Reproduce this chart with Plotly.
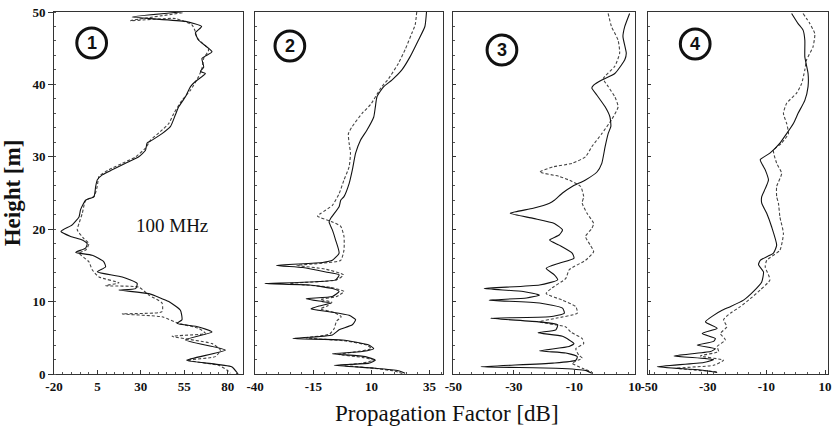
import plotly.graph_objects as go

# ---------------- data (height [m], propagation factor [dB]) ----------------
p1_solid_h = [50.0, 49.3, 48.7, 48.0, 47.1, 46.1, 44.5, 43.6, 42.4, 41.8, 41.5, 40.4, 39.7, 38.3, 36.9, 35.8, 34.2, 33.2, 32.3, 31.9,
              30.9, 30.0, 29.1, 28.2, 27.5, 26.8, 25.9, 24.5, 24.0, 22.7, 21.7, 20.6, 19.7, 19.0, 18.5, 18.0, 17.4, 16.8, 16.4, 15.5,
              14.8, 14.1, 13.4, 12.5, 11.8, 11.6, 11.1, 10.0, 8.8, 7.5, 7.0, 6.5, 5.8, 4.7, 3.3, 1.9, 1.0, 0.0]
p1_solid_v = [53, 25, 55.7, 65, 61.4, 63.3, 71.0, 65.2, 66.2, 64.3, 67.2, 61.4, 58.6, 55.7, 51.8, 49.9, 47.1, 42.2, 36.5, 33.6,
              32.7, 28.8, 21.2, 13.5, 7.8, 4.9, 4.0, 3.0, -1.8, -4.7, -5.6, -9.5, -16, -10.4, -3.7, -0.9, -1.8, -7.5, 2.0, 8.7,
              9.7, 4.9, 19.3, 27.9, 27.0, 17.4, 34.6, 46.1, 52.8, 53.7, 50.9, 63.3, 71.0, 55.7, 78.7, 56.4, 82.3, 86]
p1_dash_h = [49.9, 48.8, 49.1, 48.2, 47.3, 46.4, 44.8, 43.6, 42.2, 41.1, 39.2, 37.8, 36.0, 34.6, 33.5, 32.3, 31.2, 30.0, 29.1, 28.2,
             27.3, 25.9, 24.5, 24.0, 22.2, 20.8, 19.9, 18.7, 18.0, 17.1, 16.7, 15.5, 14.4, 13.4, 12.6, 12.2, 12.0, 10.9, 9.8, 8.6,
             8.3, 7.9, 7.0, 6.3, 5.6, 5.2, 4.2, 3.3, 2.4, 1.9, 1.2, 0.55, 0.1]
p1_dash_v = [54, 24, 50, 59.5, 61.4, 62.4, 69.1, 66.2, 65.2, 63.3, 58.6, 53.7, 49.0, 46.1, 41.3, 35.6, 32.7, 27.0, 19.3, 11.6,
             5.9, 4.9, 3.0, -1.8, -3.7, -5.6, -6.6, -2.8, 0.1, -1.8, -5.6, 0.1, 2.0, 5.9, 17.4, 9.7, 28.8, 34.6, 42.2, 42.2,
             19.3, 42.2, 51.8, 63.3, 67.2, 48.0, 71.0, 75.8, 72.9, 56.6, 74.8, 79.6, 81.5]

p2_solid_h = [50.0, 48.0, 46.1, 43.8, 42.0, 40.6, 39.7, 38.3, 36.9, 35.5, 33.7, 32.3, 30.5, 28.2, 26.3, 24.5, 24.0, 23.1, 21.5, 21.0,
              19.9, 18.5, 16.7, 15.7, 15.4, 15.0, 14.7, 14.1, 13.7, 13.0, 12.5, 12.3, 11.8, 11.4, 10.7, 10.4, 10.0, 9.8, 9.4, 9.0,
              8.6, 8.1, 7.5, 6.8, 6.1, 5.4, 4.9, 4.7, 4.0, 3.5, 3.1, 2.8, 2.4, 1.9, 1.5, 1.2, 0.8, 0.45, 0.1]
p2_solid_v = [33.7, 33.0, 30.2, 26.6, 23.1, 18.8, 15.3, 12.4, 11.7, 11.0, 8.1, 5.3, 3.2, 1.8, 0.4, -1.8, -3.2, -3.9, -7.5, -8.2,
              -6.8, -5.4, -3.9, -6.8, -11.0, -30.9, -19.5, -9.6, -3.9, -5.4, -35.9, -16.7, -6.8, -3.9, -6.8, -18.1, -11.0, -7.5, -12.4, -16.0,
              -8.2, 0.4, 3.2, 1.8, -3.9, -6.8, -23.8, -2.5, 8.9, 11.0, 6.0, -6.8, 7.4, 11.7, 8.9, -6.0, 11.7, 21.6, 24.5]
p2_dash_h = [50.0, 48.2, 47.0, 44.8, 42.9, 40.8, 39.7, 37.2, 36.0, 34.2, 33.2, 31.9, 30.5, 28.6, 26.8, 24.9, 23.3, 22.2, 21.8, 21.0,
             20.4, 19.0, 17.1, 15.7, 15.3, 15.0, 14.5, 13.7, 13.0, 12.5, 12.0, 11.4, 10.7, 10.3, 9.9, 9.4, 9.0, 8.5, 7.9, 7.3,
             6.3, 5.5, 5.0, 4.6, 4.0, 3.5, 3.0, 2.7, 2.3, 1.9, 1.5, 1.2, 0.8, 0.4, 0.0]
p2_dash_v = [29.5, 28.8, 27.3, 24.5, 21.6, 17.4, 14.5, 9.6, 6.0, 1.8, 0.1, 0.4, 1.0, 0.4, -1.8, -3.9, -6.8, -11.7, -13.2, -6.8,
             -3.2, -1.8, -1.8, -3.2, -11.0, -22, -10, -2, -5, -25, -8, -1.8, -5, -12, -7, -9, -12, -6, -3, -5,
             -6, -8, -18, -2, 8, 10, 2, -4, 6, 11, 6, -2, 11, 20, 24]

p3_solid_h = [49.8, 48.0, 46.6, 44.3, 43.4, 41.5, 40.6, 39.9, 39.5, 38.5, 36.9, 35.5, 34.2, 33.2, 31.4, 29.1, 27.9, 26.8, 25.9, 25.0,
              24.0, 23.6, 22.9, 22.2, 21.5, 20.8, 19.9, 19.2, 18.5, 17.8, 16.7, 16.0, 15.3, 14.6, 13.7, 13.0, 12.3, 11.8, 11.4, 10.9,
              10.5, 10.2, 9.8, 9.1, 8.4, 7.9, 7.7, 7.2, 6.8, 6.1, 5.7, 5.2, 4.2, 3.8, 3.2, 2.9, 2.4, 1.9, 1.5, 1.0,
              0.8, 0.5, 0.1]
p3_solid_v = [8.3, 6.7, 6.1, 7.2, 6.7, 3.4, -0.9, -3.6, -4.2, -2.5, 0.2, 1.8, 2.1, 1.2, 0.2, -0.9, -2.5, -6.3, -10.7, -13.9,
              -16.6, -18.2, -23.6, -31.2, -23.6, -16.6, -13.9, -15.0, -18.2, -15.0, -10.7, -10.1, -15.0, -19.3, -16.6, -15.5, -21.5, -39.8, -26.9, -21.5,
              -25.8, -38.2, -21.5, -13.9, -13.3, -18.2, -37.7, -21.5, -15.5, -16.1, -22.0, -13.9, -10.1, -11.7, -21.5, -12.8, -9.0, -9.5, -17.1, -40.9,
              -16.1, -6.3, -4.2]
p3_dash_h = [49.8, 48.0, 46.1, 44.3, 42.5, 40.8, 39.7, 38.3, 36.9, 35.1, 33.2, 31.4, 30.0, 29.1, 28.6, 27.9, 27.3, 26.6, 25.9, 24.5,
             23.6, 22.2, 20.8, 20.1, 19.0, 17.8, 16.9, 15.7, 14.4, 13.2, 11.8, 11.1, 10.2, 9.3, 8.4, 7.7, 7.2, 6.5, 5.8, 4.9,
             4.2, 3.5, 2.6, 2.2, 1.5, 0.8, 0.3]
p3_dash_v = [1.2, 2.3, 4.5, 5.0, 3.4, -0.4, 1.2, 3.4, 4.5, 2.3, -0.9, -4.2, -6.3, -10.7, -17.1, -21.5, -15.0, -10.7, -7.9, -6.9,
             -7.4, -5.8, -3.6, -4.2, -6.3, -4.7, -3.6, -6.3, -11.7, -12.8, -17.7, -19.3, -13.9, -9.5, -9.0, -16.1, -21.5, -12.8, -11.2, -7.4,
             -6.9, -9.5, -8.5, -7.4, -10.7, -7.4, -4.2]

p4_solid_h = [49.8, 48.4, 47.5, 46.1, 43.8, 41.5, 39.7, 37.8, 36.0, 34.6, 33.2, 31.9, 30.5, 29.6, 28.2, 26.8, 25.6, 24.5, 23.6, 22.2,
              20.3, 17.8, 16.7, 15.7, 15.1, 14.1, 12.7, 11.4, 10.2, 9.3, 8.8, 8.1, 7.2, 6.3, 5.6, 4.9, 4.5, 4.0, 3.5, 3.1,
              2.5, 2.0, 1.6, 1.0, 0.55, 0.2]
p4_solid_v = [-1.4, 0.8, 2.5, 3.1, 3.1, 4.2, 4.2, 3.1, 0.8, -0.8, -3.1, -5.4, -8.8, -12.1, -10.4, -9.3, -10.4, -11.6, -11.6, -9.9,
              -8.2, -6.5, -7.6, -12.1, -12.7, -11.0, -11.6, -14.4, -17.8, -22.3, -25.1, -28.0, -30.8, -26.8, -31.9, -27.4, -28.0, -33.6, -27.4, -29.1,
              -41.5, -28.0, -31.4, -47.2, -32.5, -26.8]
p4_dash_h = [49.8, 48.4, 47.0, 45.2, 43.4, 42.0, 40.1, 38.8, 37.4, 36.0, 34.6, 33.2, 31.9, 30.9, 29.1, 27.7, 25.9, 24.5, 23.6, 21.7,
             19.4, 17.1, 15.7, 14.8, 13.0, 11.6, 10.4, 9.3, 8.4, 7.5, 6.5, 5.6, 4.7, 3.8, 3.1, 2.5, 1.9, 1.2, 0.8, 0.3]
p4_dash_v = [2.5, 4.8, 6.5, 5.9, 3.7, 3.1, 2.0, 0.3, -3.1, -4.2, -3.1, -2.5, -4.8, -7.6, -6.5, -4.8, -6.5, -6.5, -5.9, -5.4,
             -4.2, -5.4, -9.9, -10.4, -8.8, -12.1, -15.5, -18.9, -22.3, -24.6, -23.5, -25.7, -24.0, -26.8, -26.3, -32.5, -24.6, -28.0, -40.4, -26.8]

x_ticks = [[-20, 5, 30, 55, 80], [-40, -15, 10, 35], [-50, -30, -10, 10], [-50, -30, -10, 10]]
x_ranges = [[-20, 89], [-40, 41], [-50, 10], [-50.5, 11]]
y_ticks = [0, 10, 20, 30, 40, 50]
panel_labels = ["1", "2", "3", "4"]
freq_label = "100 MHz"
x_title = "Propagation Factor [dB]"
y_title = "Height [m]"

# ---------------- layout geometry ----------------
W, H = 835, 427
ML, MR, MT, MB = 54, 0, 12, 53
PW, PH = W - ML - MR, H - MT - MB

def px2x(px):
    return (px - ML) / PW

def py2y(py):
    return (H - MB - py) / PH

domains = [[px2x(54), px2x(245)], [px2x(257), px2x(447)], [px2x(457), px2x(640)], [px2x(653), 1.0]]

series = [
    (p1_solid_h, p1_solid_v, p1_dash_h, p1_dash_v),
    (p2_solid_h, p2_solid_v, p2_dash_h, p2_dash_v),
    (p3_solid_h, p3_solid_v, p3_dash_h, p3_dash_v),
    (p4_solid_h, p4_solid_v, p4_dash_h, p4_dash_v),
]

fig = go.Figure()
for i, (sh, sv, dh, dv) in enumerate(series):
    xa = "x" if i == 0 else f"x{i+1}"
    ya = "y" if i == 0 else f"y{i+1}"
    fig.add_trace(go.Scatter(x=dv, y=dh, mode="lines", xaxis=xa, yaxis=ya,
                             line=dict(color="#444444", width=1.1, dash="3px,2px", shape="spline", smoothing=0.5),
                             showlegend=False))
    fig.add_trace(go.Scatter(x=sv, y=sh, mode="lines", xaxis=xa, yaxis=ya,
                             line=dict(color="#111111", width=1.1, shape="spline", smoothing=0.5),
                             showlegend=False))

serif = "Liberation Serif, DejaVu Serif, serif"
tick_font = dict(family=serif, size=13, color="#111", weight="bold")
layout = dict(
    width=W, height=H, margin=dict(l=ML, r=MR, t=MT, b=MB),
    paper_bgcolor="white", plot_bgcolor="white", showlegend=False,
)
for i in range(4):
    sfx = "" if i == 0 else str(i + 1)
    layout["xaxis" + sfx] = dict(
        domain=domains[i], range=x_ranges[i], anchor="y" + sfx,
        tickmode="array", tickvals=x_ticks[i], ticktext=[str(t) for t in x_ticks[i]],
        showgrid=False, zeroline=False, showline=True, linecolor="#333", linewidth=1, mirror=True,
        ticks="inside", ticklen=4, tickcolor="#333", tickfont=tick_font,
        minor=dict(ticks="inside", ticklen=2, dtick=5 if i < 2 else 4, tickcolor="#555"),
    )
    layout["yaxis" + sfx] = dict(
        domain=[0, 1], range=[0, 50], anchor="x" + sfx,
        tickmode="array", tickvals=y_ticks, showticklabels=(i == 0),
        showgrid=False, zeroline=False, showline=True, linecolor="#333", linewidth=1, mirror=True,
        ticks="outside" if i == 0 else "inside", ticklen=5 if i == 0 else 3, tickcolor="#333",
        tickfont=tick_font,
        minor=dict(ticks="inside", ticklen=2, dtick=2, tickcolor="#555"),
    )
    if i > 0:
        layout["yaxis" + sfx]["matches"] = "y"
layout["yaxis"]["title"] = dict(text=y_title, standoff=6,
                                font=dict(family=serif, size=23, color="#111", weight="bold"))
fig.update_layout(**layout)

# x-axis title
fig.add_annotation(text=x_title, xref="paper", yref="paper", x=px2x(451), y=py2y(413),
                   xanchor="center", yanchor="middle", showarrow=False,
                   font=dict(family=serif, size=23, color="#111"))
# frequency label
fig.add_annotation(text=freq_label, xref="paper", yref="paper", x=px2x(173), y=py2y(226),
                   xanchor="center", yanchor="middle", showarrow=False,
                   font=dict(family=serif, size=19, color="#111"))

# circled panel numbers
centers = [(92, 43), (292, 46), (506, 50), (701, 44)]
r = 15
for (cx, cy), lab in zip(centers, panel_labels):
    fig.add_shape(type="circle", xref="paper", yref="paper",
                  x0=px2x(cx - r), x1=px2x(cx + r), y0=py2y(cy + r), y1=py2y(cy - r),
                  line=dict(color="#111", width=3))
    fig.add_annotation(text=lab, xref="paper", yref="paper", x=px2x(cx), y=py2y(cy),
                       xanchor="center", yanchor="middle", showarrow=False,
                       font=dict(family="Liberation Sans, Arial, sans-serif", size=18, color="#111", weight="bold"))

fig.write_html("out.html")
